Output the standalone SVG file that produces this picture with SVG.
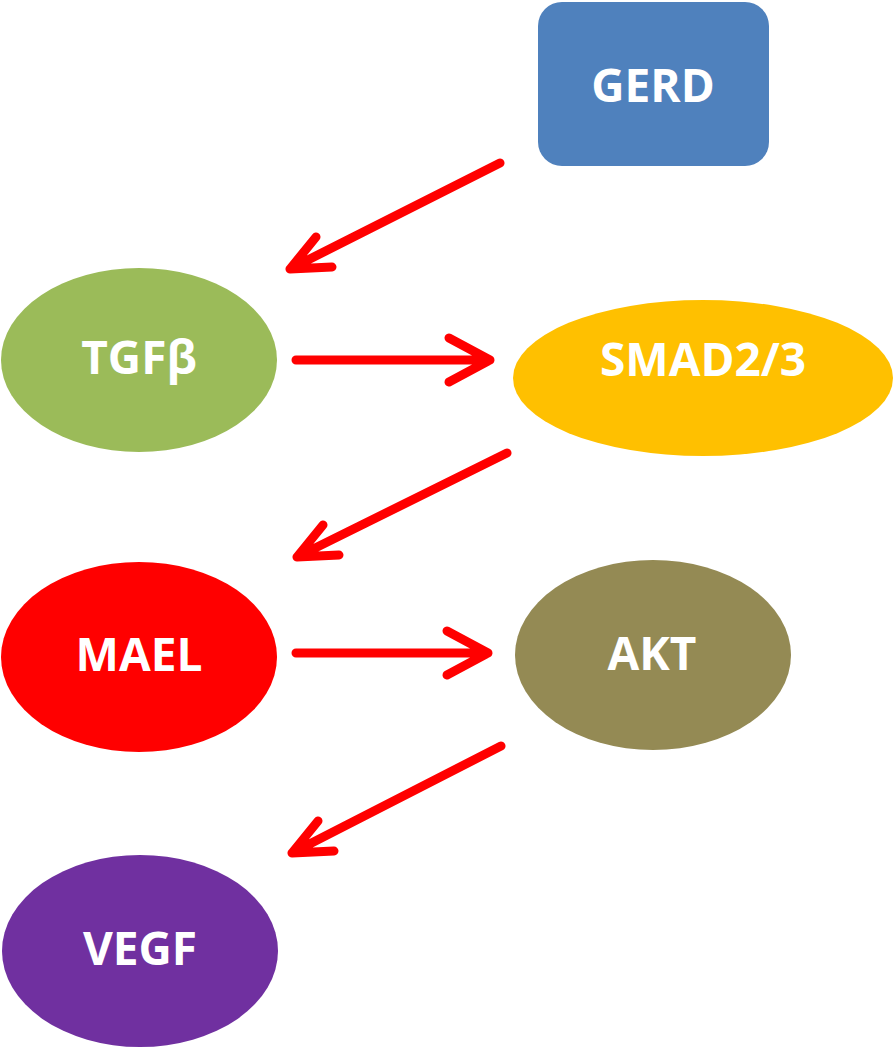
<svg xmlns="http://www.w3.org/2000/svg" width="894" height="1050" viewBox="0 0 894 1050">
<style>
.lbl{font-family:"Open Sans","Noto Sans","Liberation Sans",sans-serif;font-weight:bold;font-size:46px;fill:#fff;text-anchor:middle;dominant-baseline:central}
.arr{fill:none;stroke:#ff0000;stroke-width:9;stroke-linecap:round;stroke-linejoin:round}
</style>
<rect width="894" height="1050" fill="#fff"/>
<g id="connectors">
<path class="arr" d="M500,163 L290,269 M316,237 L290,269 L332,267"/>
<path class="arr" d="M296,360 L490,360 M449,338 L490,360 L449,382"/>
<path class="arr" d="M507,453 L297,557 M323,525 L297,557 L339,555"/>
<path class="arr" d="M296,653 L488,653 M447,631 L488,653 L447,675"/>
<path class="arr" d="M501,746 L292,853 M318,821 L292,853 L334,851"/>
</g>
<g id="GERD"><rect x="538" y="2" width="231" height="164" rx="24" fill="#4f81bd"/><text class="lbl" x="653" y="84">GERD</text></g>
<g id="TGFb"><ellipse cx="139" cy="360" rx="138" ry="92" fill="#9bbb59"/><text class="lbl" x="139" y="356">TGFβ</text></g>
<g id="SMAD23"><ellipse cx="703" cy="378" rx="190" ry="78" fill="#ffc000"/><text class="lbl" x="703" y="358">SMAD2/3</text></g>
<g id="MAEL"><ellipse cx="139" cy="657" rx="138" ry="95" fill="#ff0000"/><text class="lbl" x="139" y="653">MAEL</text></g>
<g id="AKT"><ellipse cx="653" cy="655" rx="138" ry="95" fill="#948a54"/><text class="lbl" x="652" y="652">AKT</text></g>
<g id="VEGF"><ellipse cx="140" cy="951" rx="138" ry="96" fill="#7030a0"/><text class="lbl" x="140" y="947">VEGF</text></g>
</svg>
